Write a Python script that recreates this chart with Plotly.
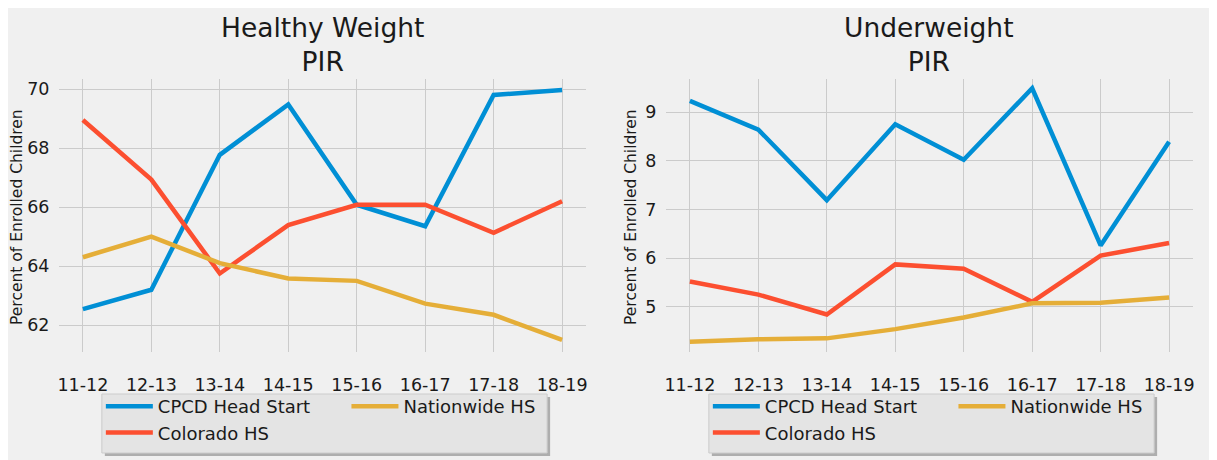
import plotly.graph_objects as go

W, H = 1217, 460
OFF = 8  # the page body margin shifts the figure by 8px

seasons = ["11-12", "12-13", "13-14", "14-15", "15-16", "16-17", "17-18", "18-19"]

hw_cpcd = [62.54, 63.20, 67.77, 69.48, 66.08, 65.35, 69.80, 69.97]
hw_colorado = [68.95, 66.93, 63.75, 65.39, 66.08, 66.08, 65.13, 66.20]
hw_nation = [64.30, 65.00, 64.10, 63.58, 63.50, 62.73, 62.35, 61.50]

uw_cpcd = [9.23, 8.64, 7.19, 8.75, 8.02, 9.49, 6.26, 8.39]
uw_colorado = [5.52, 5.25, 4.84, 5.87, 5.78, 5.10, 6.05, 6.31]
uw_nation = [4.28, 4.33, 4.35, 4.54, 4.78, 5.07, 5.08, 5.19]

series_names = ["CPCD Head Start", "Colorado HS", "Nationwide HS"]
colors = ["#008fd5", "#fc4f30", "#e5ae38"]
titles = ["Healthy Weight<br>PIR", "Underweight<br>PIR"]
ylabel = "Percent of Enrolled Children"
hw_ticks = [62, 64, 66, 68, 70]
uw_ticks = [5, 6, 7, 8, 9]

FONT = "DejaVu Sans"
TXT = "#1a1a1a"


def px_x(p):
    return (p - OFF) / W


def px_y(p):
    return 1 - (p - OFF) / H


SHIFT = 608
panels = [
    dict(x0=58, x1=586, yr=[61.09, 70.34], ticks=hw_ticks,
         data=[hw_cpcd, hw_colorado, hw_nation], xa="x", ya="y",
         legs=("legend", "legend2"), ylab_x=16),
    dict(x0=58 + SHIFT, x1=586 + SHIFT, yr=[4.07, 9.68], ticks=uw_ticks,
         data=[uw_cpcd, uw_colorado, uw_nation], xa="x2", ya="y2",
         legs=("legend3", "legend4"), ylab_x=631),
]

fig = go.Figure()
layout = dict(
    width=W, height=H,
    margin=dict(l=0, r=0, t=0, b=0),
    paper_bgcolor="#f0f0f0",
    plot_bgcolor="#f0f0f0",
    font=dict(family=FONT, color=TXT),
    showlegend=True,
)
shapes = []
annotations = []

Y_TOP, Y_BOT = 79, 352

for i, p in enumerate(panels):
    sfx = "" if i == 0 else "2"
    for k, (name, vals, col) in enumerate(zip(series_names, p["data"], colors)):
        leg = p["legs"][0] if k < 2 else p["legs"][1]
        fig.add_trace(go.Scatter(
            x=list(range(len(seasons))), y=vals, mode="lines", name=name,
            line=dict(color=col, width=4.5), xaxis=p["xa"], yaxis=p["ya"],
            legend=leg, hoverinfo="skip"))
    layout["xaxis" + sfx] = dict(
        domain=[px_x(p["x0"]), px_x(p["x1"])], anchor=p["ya"],
        range=[-0.35, 7.35], tickmode="array",
        tickvals=list(range(len(seasons))), ticktext=seasons,
        showgrid=True, gridcolor="#cbcbcb", gridwidth=1, zeroline=False,
        showline=False, ticks="outside", ticklen=17, tickcolor="rgba(0,0,0,0)",
        tickfont=dict(size=17.5, family=FONT, color=TXT), fixedrange=True)
    layout["yaxis" + sfx] = dict(
        domain=[px_y(Y_BOT), px_y(Y_TOP)], anchor=p["xa"],
        range=p["yr"], tickmode="array", tickvals=p["ticks"],
        showgrid=True, gridcolor="#cbcbcb", gridwidth=1, zeroline=False,
        showline=False, ticks="outside", ticklen=5, tickcolor="rgba(0,0,0,0)",
        tickfont=dict(size=17.5, family=FONT, color=TXT), fixedrange=True)

    cx = (p["x0"] + p["x1"]) / 2
    annotations.append(dict(text=titles[i], xref="paper", yref="paper",
                            x=px_x(cx), y=px_y(45), xanchor="center", yanchor="middle",
                            showarrow=False, font=dict(size=26.5, family=FONT, color=TXT)))
    annotations.append(dict(text=ylabel, xref="paper", yref="paper",
                            x=px_x(p["ylab_x"]), y=px_y(217), xanchor="center", yanchor="middle",
                            textangle=-90, showarrow=False,
                            font=dict(size=15.5, family=FONT, color=TXT)))

    off = 0 if i == 0 else SHIFT
    bx0, bx1, by0, by1 = 101 + off, 547 + off, 394, 453
    # shadow
    shapes.append(dict(type="rect", xref="paper", yref="paper", layer="below",
                       x0=px_x(bx0 + 3), x1=px_x(bx1 + 3), y0=px_y(by1 + 3), y1=px_y(by0 + 3),
                       fillcolor="rgba(120,120,120,0.55)", line=dict(width=0)))
    shapes.append(dict(type="rect", xref="paper", yref="paper", layer="below",
                       x0=px_x(bx0), x1=px_x(bx1), y0=px_y(by1), y1=px_y(by0),
                       fillcolor="#e4e4e4", line=dict(color="#cccccc", width=1)))

    leg_common = dict(orientation="v", bgcolor="rgba(0,0,0,0)", borderwidth=0,
                      font=dict(size=18, family=FONT, color=TXT), itemwidth=47,
                      xanchor="left", yanchor="top", itemclick=False, itemdoubleclick=False)
    layout[p["legs"][0]] = dict(leg_common, x=px_x(100 + off), y=px_y(388))
    layout[p["legs"][1]] = dict(leg_common, x=px_x(346 + off), y=px_y(388))

layout["shapes"] = shapes
layout["annotations"] = annotations
fig.update_layout(**layout)

fig.write_html("out.html")
